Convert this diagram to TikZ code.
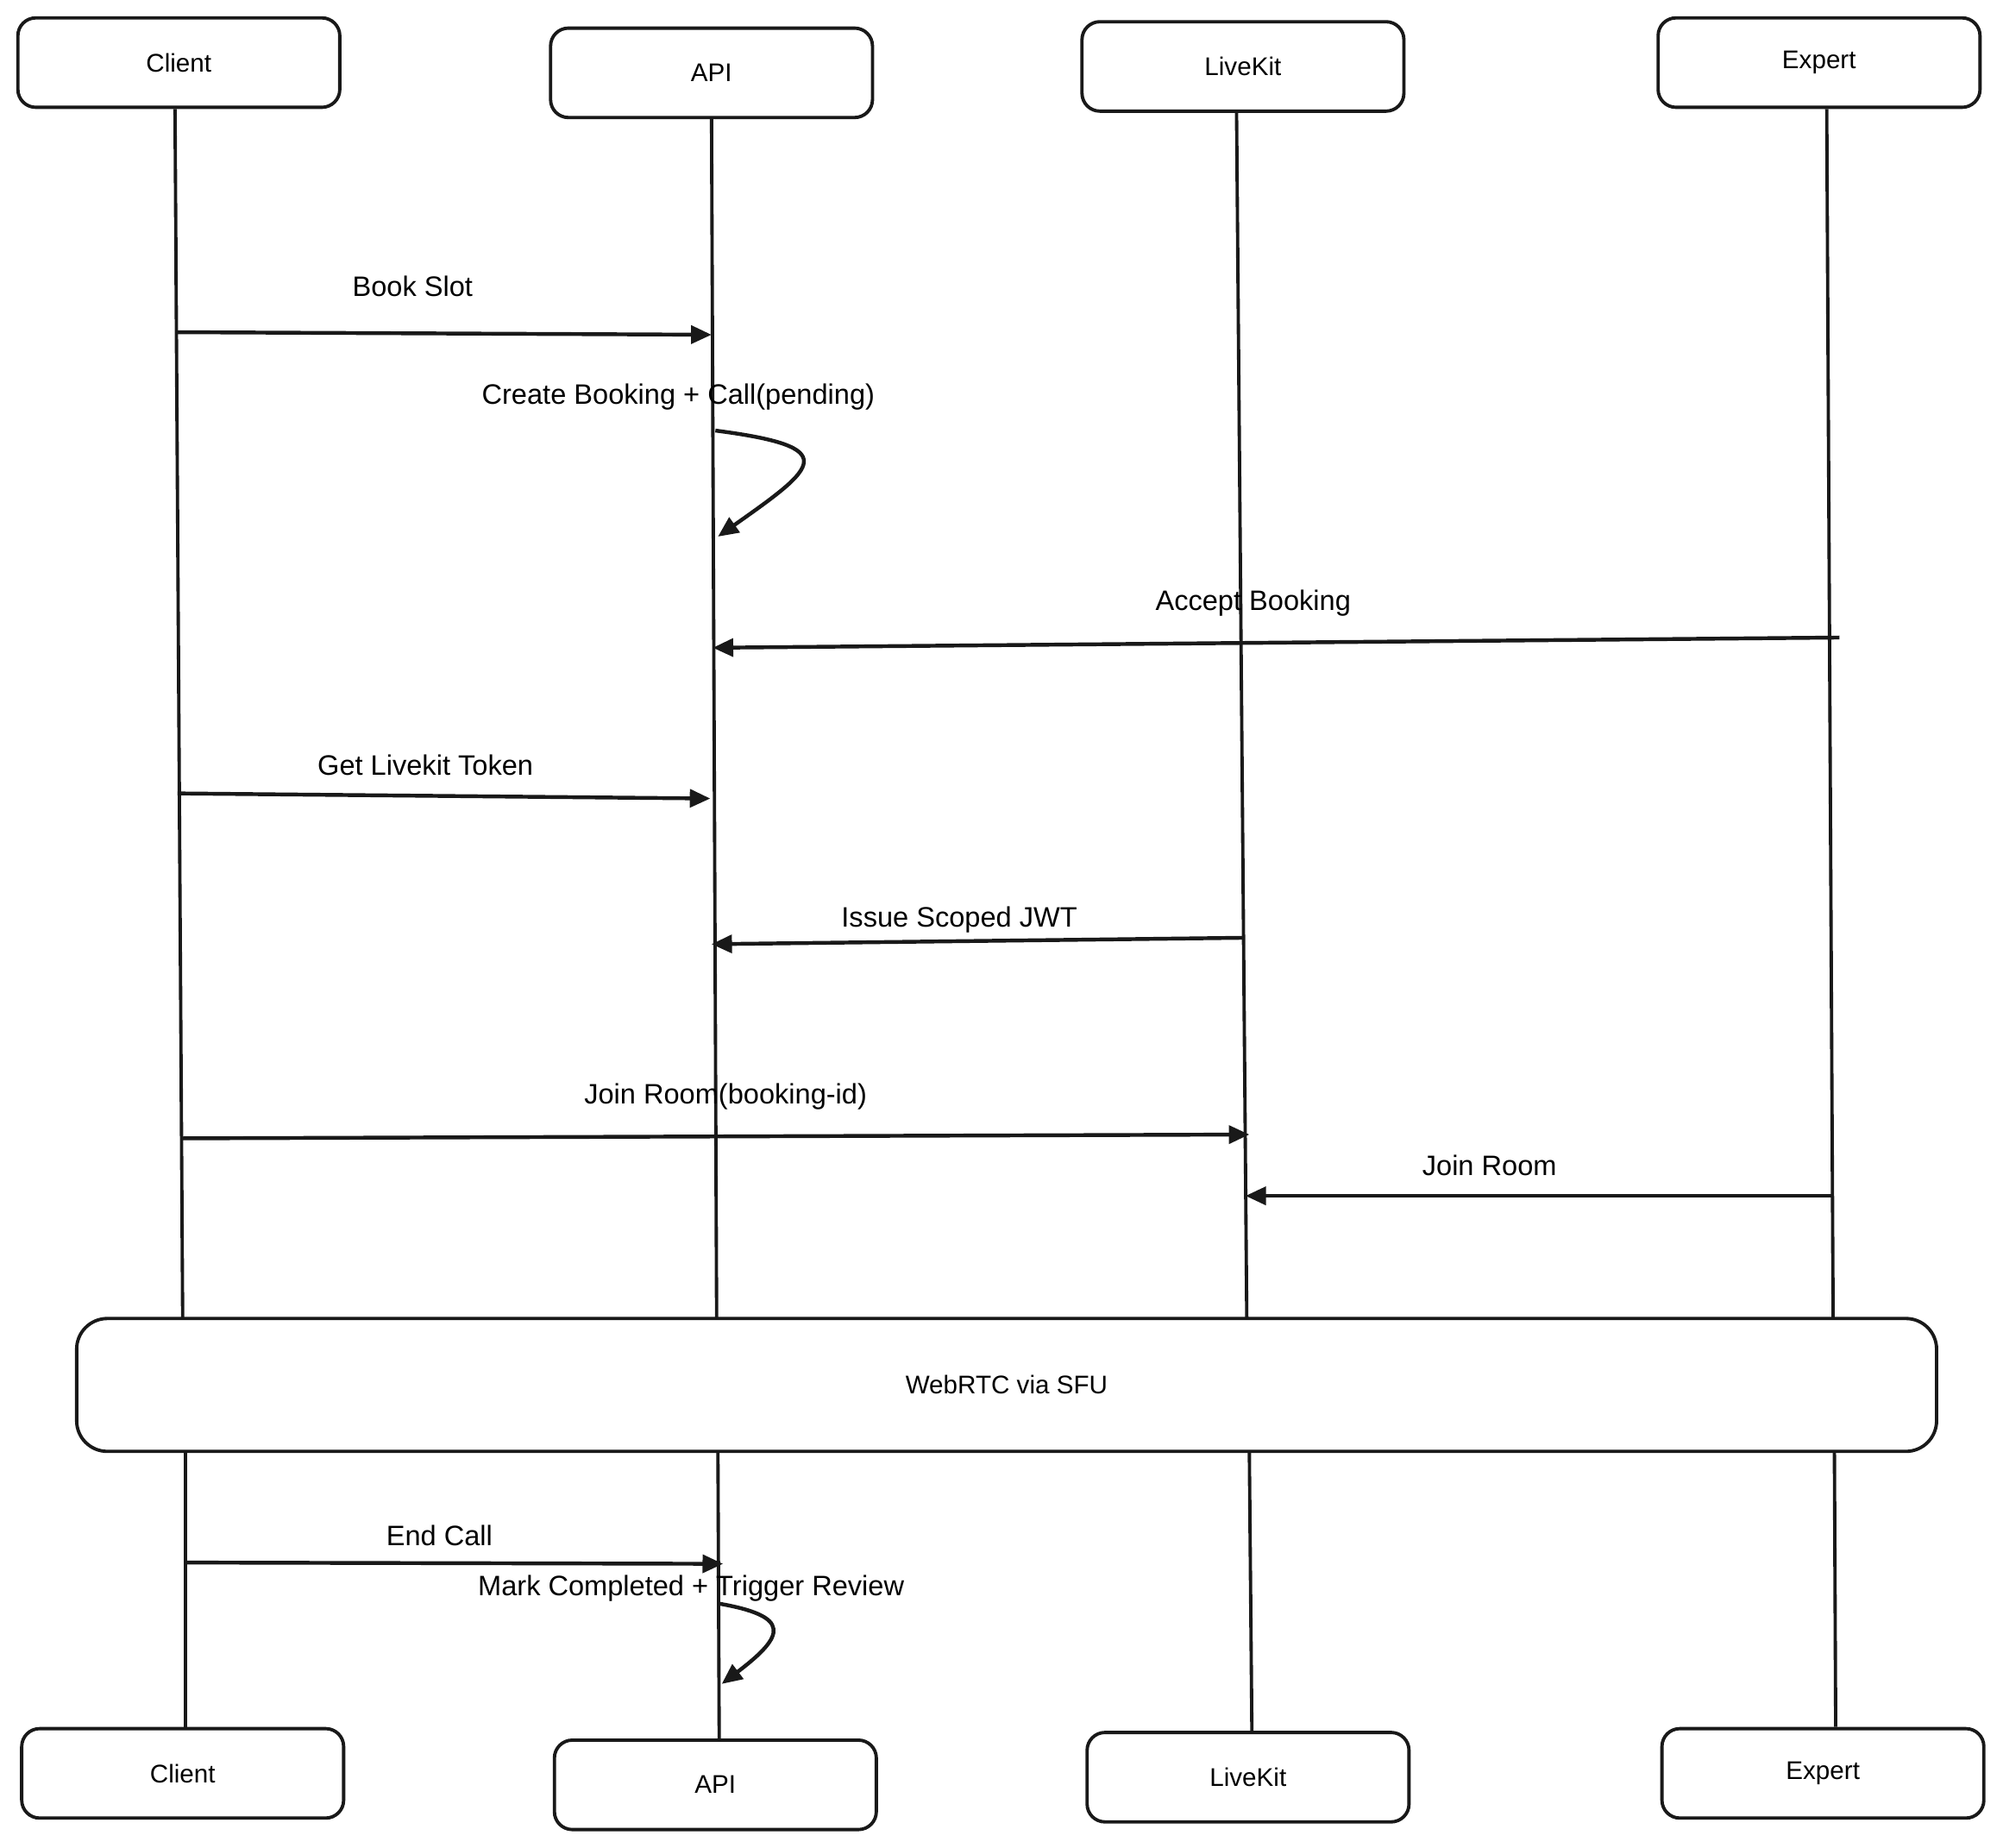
\documentclass[tikz,border=0pt]{standalone}
\usepackage{fontspec}
\setmainfont{Liberation Sans}
\usetikzlibrary{arrows.meta}
\begin{document}
\begin{tikzpicture}[x=0.5pt,y=-0.5pt,
  actor/.style={draw=black!90,line width=1.3pt,rounded corners=7pt,minimum width=126pt,minimum height=35pt,font=\fontsize{10}{12}\selectfont},
  life/.style={draw=black!90,line width=1.3pt},
  msg/.style={draw=black!90,line width=1.5pt,-{Triangle[length=8pt,width=7pt]}},
  lbl/.style={font=\fontsize{11}{13}\selectfont}]
\useasboundingbox (0,0) rectangle (1568,1446);
\fill[white] (0,0) rectangle (1568,1446);
% top actors
\node[actor] (c1) at (140,49) {Client};
\node[actor] (a1) at (557,57) {API};
\node[actor] (l1) at (973,52) {LiveKit};
\node[actor] (e1) at (1424,49) {Expert};
% bottom actors
\node[actor] (c2) at (143,1388) {Client};
\node[actor] (a2) at (560,1397) {API};
\node[actor] (l2) at (977,1391) {LiveKit};
\node[actor] (e2) at (1427,1388) {Expert};
% WebRTC box
\node[draw=black!90,line width=1.3pt,rounded corners=12pt,minimum width=728pt,minimum height=52pt,font=\fontsize{10}{12}\selectfont] (w) at (788,1084) {WebRTC via SFU};
% lifelines
\coordinate (cw1) at (143,1032); \coordinate (cw2) at (145,1136);
\coordinate (aw1) at (561,1032); \coordinate (aw2) at (562,1136);
\coordinate (lw1) at (976,1032); \coordinate (lw2) at (978,1136);
\coordinate (ew1) at (1435,1032); \coordinate (ew2) at (1436,1136);
\draw[life] (c1.south -| 137,0) -- (cw1);
\draw[life] (a1.south) -- (aw1);
\draw[life] (l1.south -| 968,0) -- (lw1);
\draw[life] (e1.south -| 1430,0) -- (ew1);
\draw[life] (cw2) -- (c2.north -| 145,0);
\draw[life] (aw2) -- (a2.north -| 563,0);
\draw[life] (lw2) -- (l2.north -| 980,0);
\draw[life] (ew2) -- (e2.north -| 1437,0);
% messages
\coordinate (m1a) at (138,260); \coordinate (m1b) at (557,262);
\draw[msg] (m1a) -- (m1b);
\node[lbl] (t1) at (323,224) {Book Slot};
\coordinate (s1a) at (560,337); \coordinate (s1b) at (562,420);
\draw[msg] (s1a) .. controls (660,350) and (640,365) .. (s1b);
\node[lbl] (t2) at (531,311) {Create Booking + Call(pending)};
\coordinate (m3a) at (1440,499); \coordinate (m3b) at (558,507);
\draw[msg] (m3a) -- (m3b);
\node[lbl] (t3) at (981,472) {Accept Booking};
\coordinate (m4a) at (139,621); \coordinate (m4b) at (556,625);
\draw[msg] (m4a) -- (m4b);
\node[lbl] (t4) at (333,599) {Get Livekit Token};
\coordinate (m5a) at (973,734); \coordinate (m5b) at (557,739);
\draw[msg] (m5a) -- (m5b);
\node[lbl] (t5) at (751,720) {Issue Scoped JWT};
\coordinate (m6a) at (143,891); \coordinate (m6b) at (978,888);
\draw[msg] (m6a) -- (m6b);
\node[lbl] (t6) at (568,858) {Join Room(booking-id)};
\coordinate (m7a) at (1435,936); \coordinate (m7b) at (975,936);
\draw[msg] (m7a) -- (m7b);
\node[lbl] (t7) at (1166,912) {Join Room};
\coordinate (m8a) at (145,1223); \coordinate (m8b) at (566,1224);
\draw[msg] (m8a) -- (m8b);
\node[lbl] (t8) at (344,1202) {End Call};
\coordinate (s2a) at (562,1255); \coordinate (s2b) at (565,1318);
\draw[msg] (s2a) .. controls (620,1265) and (615,1280) .. (s2b);
\node[lbl] (t9) at (541,1243) {Mark Completed + Trigger Review};
\end{tikzpicture}
\end{document}
